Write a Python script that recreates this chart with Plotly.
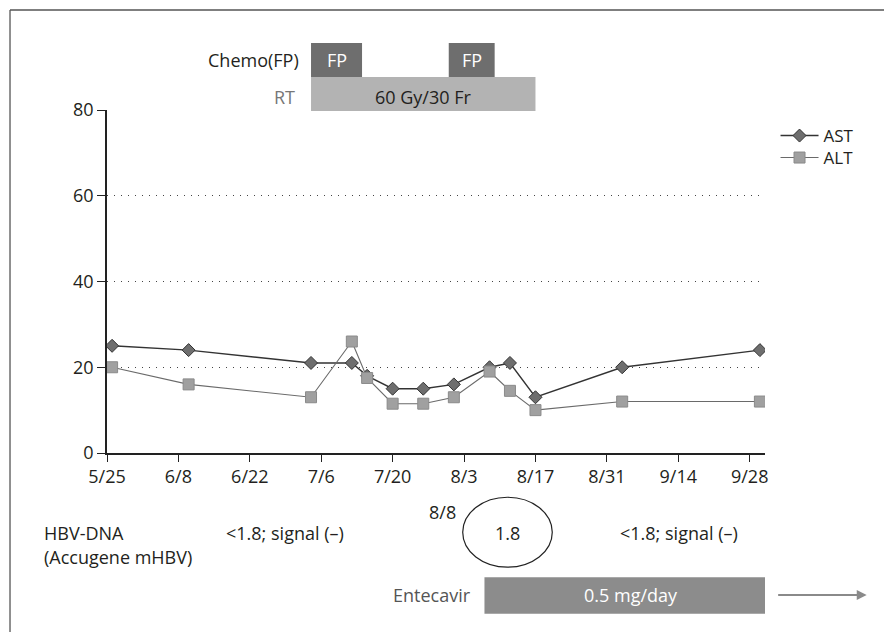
import plotly.graph_objects as go
import pandas as pd

# ---- data ----
dates = ["2010-05-26", "2010-06-10", "2010-07-04", "2010-07-12", "2010-07-15",
         "2010-07-20", "2010-07-26", "2010-08-01", "2010-08-08", "2010-08-12",
         "2010-08-17", "2010-09-03", "2010-09-30"]
ast = [25, 24, 21, 21, 18, 15, 15, 16, 20, 21, 13, 20, 24]
alt = [20, 16, 13, 26, 17.5, 11.5, 11.5, 13, 19, 14.5, 10, 12, 12]

tick_vals = ["2010-05-25", "2010-06-08", "2010-06-22", "2010-07-06", "2010-07-20",
             "2010-08-03", "2010-08-17", "2010-08-31", "2010-09-14", "2010-09-28"]
tick_text = ["5/25", "6/8", "6/22", "7/6", "7/20", "8/3", "8/17", "8/31", "9/14", "9/28"]
y_ticks = [0, 20, 40, 60, 80]

fp_starts = ["2010-07-04", "2010-07-31"]
fp_ends = ["2010-07-14", "2010-08-09"]
rt_start, rt_end = "2010-07-04", "2010-08-17"
ent_start, ent_end = "2010-08-07", "2010-10-02"

FONT = "Open Sans"
TXT = "#231f20"
FS = 18

fig = go.Figure()
fig.add_trace(go.Scatter(
    x=dates, y=ast, name="AST", mode="lines+markers", legend="legend",
    line=dict(color="#333333", width=1.4),
    marker=dict(symbol="diamond", size=10, color="#6e6e6e",
                line=dict(color="#333333", width=1))))
fig.add_trace(go.Scatter(
    x=dates, y=alt, name="ALT", mode="lines+markers", legend="legend2",
    line=dict(color="#6a6a6a", width=1.1),
    marker=dict(symbol="square", size=11, color="#a0a0a0",
                line=dict(color="#8a8a8a", width=1))))

def mid(a, b):
    return (pd.Timestamp(a) + (pd.Timestamp(b) - pd.Timestamp(a)) / 2).strftime("%Y-%m-%d %H:%M")

def txt(size=FS, color=TXT):
    return dict(size=size, color=color, family=FONT)

def note(x, y, text, xref="paper", xanchor="center", color=TXT):
    return dict(x=x, y=y, xref=xref, yref="paper", text=text, showarrow=False,
                xanchor=xanchor, yanchor="middle", font=txt(color=color))

shapes = []
ann = []
# RT bar
shapes.append(dict(type="rect", xref="x", yref="paper", x0=rt_start, x1=rt_end,
                   y0=0.997, y1=1.096, fillcolor="#b3b3b3", line=dict(width=0), layer="below"))
ann.append(note(mid(rt_start, rt_end), 1.038, "60 Gy/30 Fr", xref="x"))
for s, e in zip(fp_starts, fp_ends):
    shapes.append(dict(type="rect", xref="x", yref="paper", x0=s, x1=e,
                       y0=1.096, y1=1.195, fillcolor="#6e6e6e", line=dict(width=0)))
    ann.append(note(mid(s, e), 1.146, "FP", xref="x", color="white"))
ann.append(note(0.2944, 1.146, "Chemo(FP)", xanchor="right"))
ann.append(note(0.2883, 1.038, "RT", xanchor="right", color="#777777"))

# HBV-DNA
ann.append(note(-0.0993, -0.2332, "HBV-DNA", xanchor="left"))
ann.append(note(-0.0993, -0.3023, "(Accugene mHBV)", xanchor="left"))
ann.append(note(0.2705, -0.2332, "<1.8; signal (\u2013)"))
ann.append(note(0.869, -0.2332, "<1.8; signal (\u2013)"))
ann.append(note(0.510, -0.171, "8/8"))
ann.append(note(0.6087, -0.2332, "1.8"))
shapes.append(dict(type="circle", xref="paper", yref="paper", x0=0.5406, x1=0.6767,
                   y0=-0.333, y1=-0.129, line=dict(color="#222222", width=1.2)))

# Entecavir
shapes.append(dict(type="rect", xref="x", yref="paper", x0=ent_start, x1=ent_end,
                   y0=-0.469, y1=-0.3624, fillcolor="#8c8c8c", line=dict(width=0)))
ann.append(note(0.5558, -0.414, "Entecavir", xanchor="right", color="#555555"))
ann.append(note(0.7964, -0.414, "0.5 mg/day", color="white"))
ann.append(dict(x=1.1545, y=-0.414, xref="paper", yref="paper", text="",
                showarrow=True, ax=-90, ay=0, arrowhead=2, arrowsize=0.9,
                arrowwidth=2.2, arrowcolor="#8a8a8a"))

# frame
shapes.append(dict(type="line", xref="paper", yref="paper", x0=-0.1474, x1=1.25,
                   y0=1.2915, y1=1.2915, line=dict(color="#555555", width=1.3)))
shapes.append(dict(type="line", xref="paper", yref="paper", x0=-0.1474, x1=-0.1474,
                   y0=1.2915, y1=-0.6, line=dict(color="#555555", width=1.3)))

leg_common = dict(xanchor="left", yanchor="middle", font=txt(size=17),
                  bgcolor="rgba(0,0,0,0)", itemwidth=38)

fig.update_layout(
    width=876, height=624,
    margin=dict(l=99, r=119, t=102, b=179),
    paper_bgcolor="white", plot_bgcolor="white",
    font=dict(family=FONT, size=FS, color=TXT),
    shapes=shapes, annotations=ann,
    showlegend=True,
    legend=dict(x=1.016, y=0.9242, **leg_common),
    legend2=dict(x=1.016, y=0.8601, **leg_common),
    xaxis=dict(range=["2010-05-25", "2010-10-01"], tickvals=tick_vals, ticktext=tick_text,
               showgrid=False, showline=True, linecolor="#222222", linewidth=1.5,
               ticks="outside", ticklen=7, tickcolor="#222222", zeroline=False,
               tickfont=txt()),
    yaxis=dict(range=[0, 80], tickvals=y_ticks,
               showgrid=True, gridcolor="#444444", griddash="1px,6px", gridwidth=1.2,
               showline=True, linecolor="#222222", linewidth=1.5,
               ticks="outside", ticklen=8, tickcolor="#222222", zeroline=False,
               tickfont=txt()),
)

fig.write_html("out.html")
